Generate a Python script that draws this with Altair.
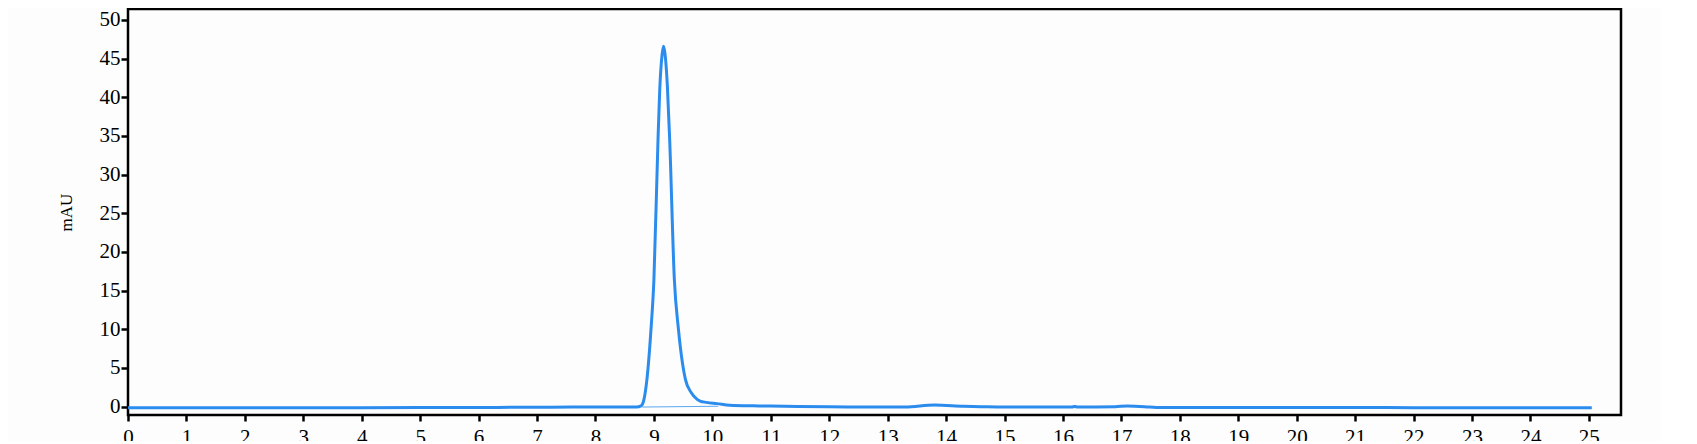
import altair as alt
import pandas as pd

# Chromatogram trace (time in min, signal in mAU)
times = [0, 1, 2, 3, 4, 5, 6, 7, 7.6, 8.0, 8.5, 8.7, 8.78, 8.83, 8.88, 8.95, 9.0,
         9.07, 9.1, 9.14, 9.165, 9.19, 9.23, 9.27, 9.35, 9.42, 9.54, 9.64, 9.74,
         9.79, 9.9, 10.08, 10.3, 10.7, 11, 12, 13, 13.3, 13.8, 14.3, 14.6, 15,
         16.15, 16.2, 16.25, 16.9, 17.1, 17.4, 17.6, 18, 19, 20, 21, 22, 23, 24, 25.05]
signal = [-0.15, -0.15, -0.13, -0.13, -0.13, -0.12, -0.1, -0.08, -0.05, -0.05, -0.05,
          -0.05, 0.1, 0.94, 3.5, 10.0, 16.4,
          34.5, 41.0, 45.5, 46.6, 45.6, 41.5, 34.5, 16.4, 10.0, 3.5, 1.8, 0.94,
          0.72, 0.55, 0.39, 0.17, 0.1, 0.08, -0.02, -0.05, -0.05, 0.2, 0.05, 0.0, -0.05,
          -0.05, 0.03, -0.05, 0.0, 0.08, 0.0, -0.1, -0.12, -0.12, -0.12, -0.12, -0.13,
          -0.13, -0.13, -0.13]

# Integration baseline under the main peak
base_t = [8.8, 10.1]
base_v = [-0.05, 0.05]

x_ticks = list(range(0, 26))
y_ticks = list(range(0, 51, 5))

trace = pd.DataFrame({"t": times, "v": signal})
base = pd.DataFrame({"t": base_t, "v": base_v})

FONT = "'Liberation Serif', 'Times New Roman', serif"

xs = alt.Scale(domain=[0, 25.55], nice=False, zero=False)
ys = alt.Scale(domain=[-1.08, 51.4], nice=False, zero=False)

xax = alt.Axis(values=x_ticks, format="d", title=None, grid=False, domain=False,
               tickColor="black", tickWidth=2.5, tickSize=6,
               labelFont=FONT, labelFontSize=21, labelColor="black",
               labelPadding=5, labelFlush=False, labelOverlap=False)
yax = alt.Axis(values=y_ticks, format="d", title="mAU", grid=False, domain=False,
               tickColor="black", tickWidth=2.5, tickSize=7,
               labelFont=FONT, labelFontSize=21, labelColor="black",
               labelPadding=1, labelFlush=False, labelOverlap=False,
               titleFont=FONT, titleFontSize=17, titleFontWeight="normal",
               titleColor="black", titleX=-62, titleY=203, titleAngle=270,
               titleAlign="center", titleBaseline="middle")

line = alt.Chart(trace).mark_line(color="#2b8cee", strokeWidth=3,
                                  interpolate="monotone", clip=True).encode(
    x=alt.X("t:Q", scale=xs, axis=xax),
    y=alt.Y("v:Q", scale=ys, axis=yax),
)

bl = alt.Chart(base).mark_line(color="#5aa8f2", strokeWidth=1, clip=True).encode(
    x=alt.X("t:Q", scale=xs),
    y=alt.Y("v:Q", scale=ys),
)

chart = alt.layer(bl, line).properties(
    width=1493, height=406,
    autosize=alt.AutoSizeParams(type="none"),
    padding={"left": 120, "top": 1, "right": 40, "bottom": 26},
    background="#fdfdfd",
).configure_view(stroke="black", strokeWidth=2.5)

chart.save("out.html", embed_options={"renderer": "svg", "actions": False})
